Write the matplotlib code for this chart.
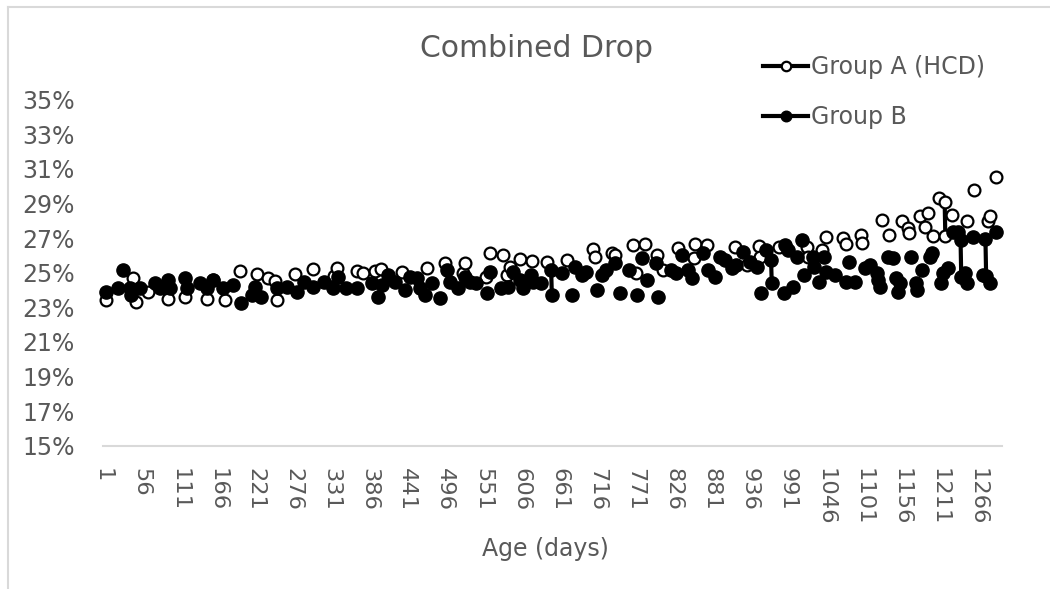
import matplotlib
matplotlib.use("Agg")
import matplotlib.pyplot as plt
from matplotlib.lines import Line2D
from matplotlib.ticker import FuncFormatter
import numpy as np
import pandas as pd

# day of age -> combined drop (%)
group_a_days = [6, 45, 48, 66, 95, 119, 151, 160, 177, 199, 223, 240, 250, 253, 279, 305, 335, 339,
                368, 377, 394, 403, 433, 469, 495, 522, 524, 555, 561, 579, 585, 590, 604, 621,
                643, 672, 710, 713, 737, 741, 768, 771, 785, 802, 811, 833, 855, 857, 874, 915,
                932, 949, 951, 978, 1019, 1021, 1040, 1046, 1071, 1076, 1097, 1099, 1127, 1138,
                1156, 1165, 1167, 1182, 1190, 1194, 1201, 1210, 1218, 1219, 1228, 1251, 1260,
                1281, 1284, 1292]
group_a_vals = [23.4, 24.7, 23.3, 23.9, 23.5, 23.6, 23.5, 24.6, 23.4, 25.1, 24.9, 24.7, 24.5, 23.4,
                24.9, 25.2, 24.8, 25.3, 25.1, 25.0, 25.1, 25.2, 25.06, 25.25, 25.58, 24.96, 25.58,
                24.77, 26.12, 26.02, 24.87, 25.35, 25.77, 25.69, 25.64, 25.73, 26.35, 25.92, 26.12,
                26.02, 26.6, 24.96, 26.66, 26.02, 25.16, 26.41, 25.83, 26.66, 26.6, 26.47, 25.45,
                26.54, 25.92, 26.5, 26.5, 25.92, 26.31, 27.08, 26.99, 26.64, 27.18, 26.73, 28.05,
                27.18, 27.99, 27.56, 27.31, 28.28, 27.66, 28.47, 27.12, 29.3, 29.1, 27.12, 28.33,
                27.99, 29.78, 27.99, 28.3, 30.51]

group_b_days = [6, 23, 30, 40, 42, 54, 76, 83, 95, 98, 119, 122, 141, 151, 160, 175, 189, 201, 216,
                221, 230, 252, 267, 281, 291, 305, 320, 334, 341, 353, 368, 390, 399, 404, 413,
                423, 438, 445, 455, 459, 467, 476, 488, 498, 503, 515, 525, 532, 541, 556, 561,
                577, 587, 594, 604, 609, 620, 623, 635, 649, 650, 664, 679, 683, 693, 700, 715,
                722, 729, 741, 749, 761, 773, 780, 787, 801, 804, 823, 830, 838, 847, 852, 869,
                876, 886, 893, 900, 910, 917, 927, 936, 946, 953, 960, 967, 968, 985, 987, 991,
                999, 1004, 1012, 1015, 1027, 1029, 1037, 1044, 1046, 1059, 1076, 1080, 1088,
                1103, 1110, 1120, 1122, 1124, 1136, 1143, 1148, 1150, 1153, 1170, 1176, 1178,
                1185, 1197, 1199, 1213, 1215, 1223, 1230, 1238, 1241, 1242, 1247, 1250, 1259,
                1274, 1277, 1278, 1283, 1292]
group_b_vals = [23.9, 24.1, 25.16, 24.1, 23.7, 24.1, 24.4, 24.1, 24.6, 24.1, 24.68, 24.1, 24.4, 24.1,
                24.6, 24.1, 24.29, 23.23, 23.7, 24.19, 23.6, 24.1, 24.19, 23.9, 24.48, 24.19, 24.48,
                24.1, 24.73, 24.1, 24.1, 24.4, 23.6, 24.29, 24.87, 24.48, 24.0, 24.77, 24.68, 24.1,
                23.7, 24.39, 23.52, 25.16, 24.48, 24.1, 24.77, 24.48, 24.39, 23.81, 25.06, 24.1,
                24.19, 25.06, 24.58, 24.1, 24.87, 24.48, 24.39, 25.16, 23.7, 24.96, 23.7, 25.35,
                24.87, 25.06, 24.0, 24.87, 25.16, 25.54, 23.81, 25.16, 23.7, 25.83, 24.58, 25.54,
                23.6, 25.16, 24.96, 26.02, 25.16, 24.68, 26.12, 25.16, 24.77, 25.92, 25.73, 25.25,
                25.45, 26.21, 25.64, 25.35, 23.85, 26.31, 25.73, 24.39, 23.81, 26.6, 26.31, 24.19,
                25.92, 26.89, 24.87, 25.92, 25.35, 24.48, 25.92, 25.06, 24.87, 24.48, 25.64, 24.48,
                25.25, 25.45, 24.96, 24.58, 24.19, 25.92, 25.83, 24.68, 23.9, 24.39, 25.92, 24.39,
                24.0, 25.16, 25.92, 26.12, 24.39, 24.96, 25.25, 27.37, 27.37, 26.89, 24.77, 24.96,
                24.39, 27.08, 24.87, 26.93, 24.81, 24.39, 27.37]

n_days = 1300
tick_days = list(range(1, 1267, 55))

TEXT = "#595959"
GRID = "#d9d9d9"
plt.rcParams["font.family"] = ["DejaVu Sans"]

days = np.arange(1, n_days + 1)
a = pd.Series(group_a_vals, index=group_a_days).reindex(days) / 100
b = pd.Series(group_b_vals, index=group_b_days).reindex(days) / 100

fig = plt.figure(figsize=(10.5, 5.89), dpi=100)
ax = fig.add_axes([0.0978, 0.2433, 0.8562, 0.5874])

line_a, = ax.plot(days, a.values, color="black", lw=3, marker="o", ms=8.5,
                  mfc="white", mec="black", mew=1.6, label="Group A (HCD)", clip_on=False)
line_b, = ax.plot(days, b.values, color="black", lw=3, marker="o", ms=9.5,
                  mfc="black", mec="black", mew=1, label="Group B", clip_on=False)

ax.set_xlim(0.5, n_days + 0.5)
ax.set_ylim(0.15, 0.35)
ax.set_yticks(np.arange(0.15, 0.351, 0.02))
ax.yaxis.set_major_formatter(FuncFormatter(lambda v, _: f"{v * 100:.0f}%"))
ax.set_xticks(tick_days)
ax.set_xticklabels([str(d) for d in tick_days], rotation=270)

for s in ["top", "right", "left"]:
    ax.spines[s].set_visible(False)
ax.spines["bottom"].set_color(GRID)
ax.spines["bottom"].set_linewidth(1.5)
ax.tick_params(axis="both", length=0, labelcolor=TEXT)
ax.tick_params(axis="y", pad=20, labelsize=17)
ax.tick_params(axis="x", pad=16, labelsize=16.2)

fig.text(0.511, 0.918, "Combined Drop", ha="center", va="center", fontsize=21.5, color=TEXT)
fig.text(0.519, 0.068, "Age (days)", ha="center", va="center", fontsize=17, color=TEXT)

leg = fig.legend(handles=[line_a, line_b], loc="upper left", bbox_to_anchor=(0.7155, 0.9265),
                 frameon=False, fontsize=17, handlelength=1.9, handletextpad=0.15,
                 labelspacing=1.1, borderpad=0, markerscale=0.8)
for t in leg.get_texts():
    t.set_color(TEXT)

# chart frame edges
fig.add_artist(Line2D([8 / 1050, 8 / 1050], [0, 1 - 7 / 589], color=GRID, lw=1.5))
fig.add_artist(Line2D([8 / 1050, 1], [1 - 7 / 589, 1 - 7 / 589], color=GRID, lw=1.5))

fig.savefig("out.png", dpi=100)
